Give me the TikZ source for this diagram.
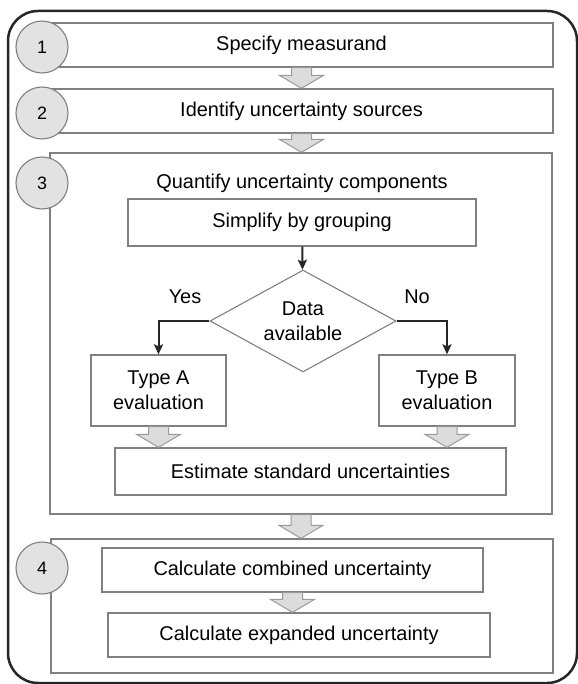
\documentclass[tikz,border=0pt]{standalone}
\usepackage{fontspec}
\setmainfont{Liberation Sans}
\usetikzlibrary{shapes.geometric,arrows.meta,calc}

\definecolor{boxline}{HTML}{808080}
\definecolor{numfill}{HTML}{E2E2E2}
\definecolor{flowfill}{HTML}{DCDCDC}
\definecolor{flowline}{HTML}{9A9A9A}

% wide grey arrow from the bottom of one box to the top of the next
\newcommand\flowarrow[2]{%
  \path[draw=flowline, fill=flowfill, line width=1bp, line join=miter]
    let \p1 = (#1.south), \p2 = (#2.north) in
    (\x1-10bp,\y1) -- (\x1-10bp,\y2+13bp) -- (\x1-22bp,\y2+13bp) -- (\x1,\y2) --
    (\x1+22bp,\y2+13bp) -- (\x1+10bp,\y2+13bp) -- (\x1+10bp,\y1) -- cycle;}

\begin{document}
\begin{tikzpicture}[x = 1bp, y = 1bp, font = \fontsize{20}{25}\selectfont,
    box/.style = {draw = boxline, line width = 1.3bp, inner sep = 0pt, align = center},
    decision/.style = {diamond, aspect = 1.8, draw = boxline, line width = 1.1bp,
      inner sep = 0pt, align = center},
    stepnum/.style = {circle, draw = boxline, fill = numfill, line width = 1.1bp,
      minimum size = 52bp, inner sep = 0pt, font = \fontsize{18}{20}\selectfont},
    branch/.style = {draw = black!85, line width = 2bp,
      -{Stealth[length = 10bp, width = 9bp, inset = 2bp]}}]
  \useasboundingbox (0,0) rectangle (578,-684);
  \draw [line width = 2.5bp, black!85, rounded corners = 30bp] (8,-11) rectangle (577,-683);

  % the four stages
  \node [box, minimum width = 503bp, minimum height = 44bp] (measurand) at (301.5,-45) {Specify measurand};
  \node [box, minimum width = 503bp, minimum height = 44bp] (sources) at (301.5,-111) {Identify uncertainty sources};
  \node [box, minimum width = 502bp, minimum height = 361bp] (stage3) at (301,-333.5) {};
  \node [box, minimum width = 502bp, minimum height = 134bp] (stage4) at (302,-606) {};

  % inside stage 3
  \node (quantify) at (302,-183) {Quantify uncertainty components};
  \node [box, minimum width = 348bp, minimum height = 47bp] (simplify) at (302,-222.5) {Simplify by grouping};
  \node [decision, minimum width = 186bp, minimum height = 102bp] (data) at (303,-321) {Data\\available};
  \node [box, minimum width = 135bp, minimum height = 71bp] (typea) at (158.5,-390.5) {Type A\\evaluation};
  \node [box, minimum width = 136bp, minimum height = 71bp] (typeb) at (447,-390.5) {Type B\\evaluation};
  \node [box, minimum width = 391bp, minimum height = 47bp] (estimate) at (310.5,-471.5) {Estimate standard uncertainties};
  \node (yes) at (185,-297) {Yes};
  \node (no) at (417,-297) {No};

  % inside stage 4
  \node [box, minimum width = 381bp, minimum height = 44bp] (combined) at (292.5,-570) {Calculate combined uncertainty};
  \node [box, minimum width = 382bp, minimum height = 44bp] (expanded) at (299,-635) {Calculate expanded uncertainty};

  \draw [branch] (simplify) -- (data);
  \draw [branch] (data.west) -| (typea.north);
  \draw [branch] (data.east) -| (typeb.north);

  \flowarrow{measurand}{sources}
  \flowarrow{sources}{stage3}
  \flowarrow{typea}{estimate}
  \flowarrow{typeb}{estimate}
  \flowarrow{stage3}{stage4}
  \flowarrow{combined}{expanded}

  \node [stepnum] (n1) at (42,-47) {1};
  \node [stepnum] (n2) at (42,-113) {2};
  \node [stepnum] (n3) at (42,-183) {3};
  \node [stepnum] (n4) at (42,-568) {4};
\end{tikzpicture}
\end{document}
